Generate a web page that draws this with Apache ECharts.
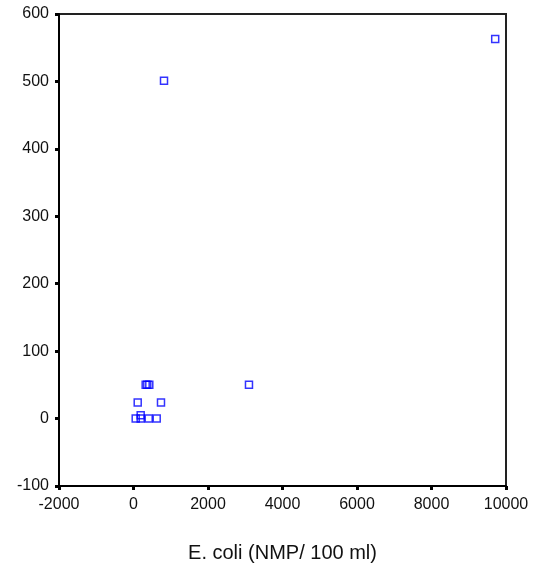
<!DOCTYPE html>
<html>
<head>
<meta charset="utf-8">
<script src="https://cdn.jsdelivr.net/npm/echarts@6/dist/echarts.min.js"></script>
<style>html,body{margin:0;padding:0;background:#fff}#c{width:543px;height:576px}</style>
</head>
<body>
<div id="c"></div>
<script>
var ecoli = [9710, 819, 3100, 327, 370, 424, 113, 738, 193, 59, 193, 408, 623];
var yVals = [563, 501, 50, 50, 50, 50, 24, 24, 5, 0, 0, 0, 0];
var xTicks = [-2000, 0, 2000, 4000, 6000, 8000, 10000];
var yTicks = [-100, 0, 100, 200, 300, 400, 500, 600];
var xTitle = 'E. coli (NMP/ 100 ml)';

var pts = ecoli.map(function (x, i) { return [x, yVals[i]]; });
var chart = echarts.init(document.getElementById('c'), null, {renderer: 'canvas'});
chart.setOption({
  animation: false,
  backgroundColor: '#fff',
  grid: {left: 59, right: 37, top: 14, bottom: 90, show: true, borderColor: '#222', borderWidth: 2, backgroundColor: 'transparent'},
  xAxis: {
    type: 'value', min: xTicks[0], max: xTicks[xTicks.length - 1], interval: 2000,
    name: xTitle, nameLocation: 'middle', nameGap: 57,
    nameTextStyle: {fontFamily: 'Liberation Sans', fontSize: 20, color: '#111'},
    axisLine: {show: true, onZero: false, lineStyle: {color: '#000', width: 2}},
    axisTick: {show: true, length: 4, inside: false, lineStyle: {color: '#000', width: 3}},
    axisLabel: {fontFamily: 'Liberation Sans', fontSize: 16, color: '#111', margin: 11,
      formatter: function (v) { return String(v); }},
    splitLine: {show: false}
  },
  yAxis: {
    type: 'value', min: yTicks[0], max: yTicks[yTicks.length - 1], interval: 100,
    axisLine: {show: true, onZero: false, lineStyle: {color: '#000', width: 2}},
    axisTick: {show: true, length: 4, inside: false, lineStyle: {color: '#000', width: 3}},
    axisLabel: {fontFamily: 'Liberation Sans', fontSize: 16, color: '#111', margin: 10,
      formatter: function (v) { return String(v); }},
    splitLine: {show: false}
  },
  series: [{
    type: 'scatter',
    data: pts,
    symbol: 'rect',
    symbolSize: 7,
    itemStyle: {color: 'rgba(0,0,0,0)', borderColor: '#0000ff', borderWidth: 1.5}
  }]
});
</script>
</body>
</html>
